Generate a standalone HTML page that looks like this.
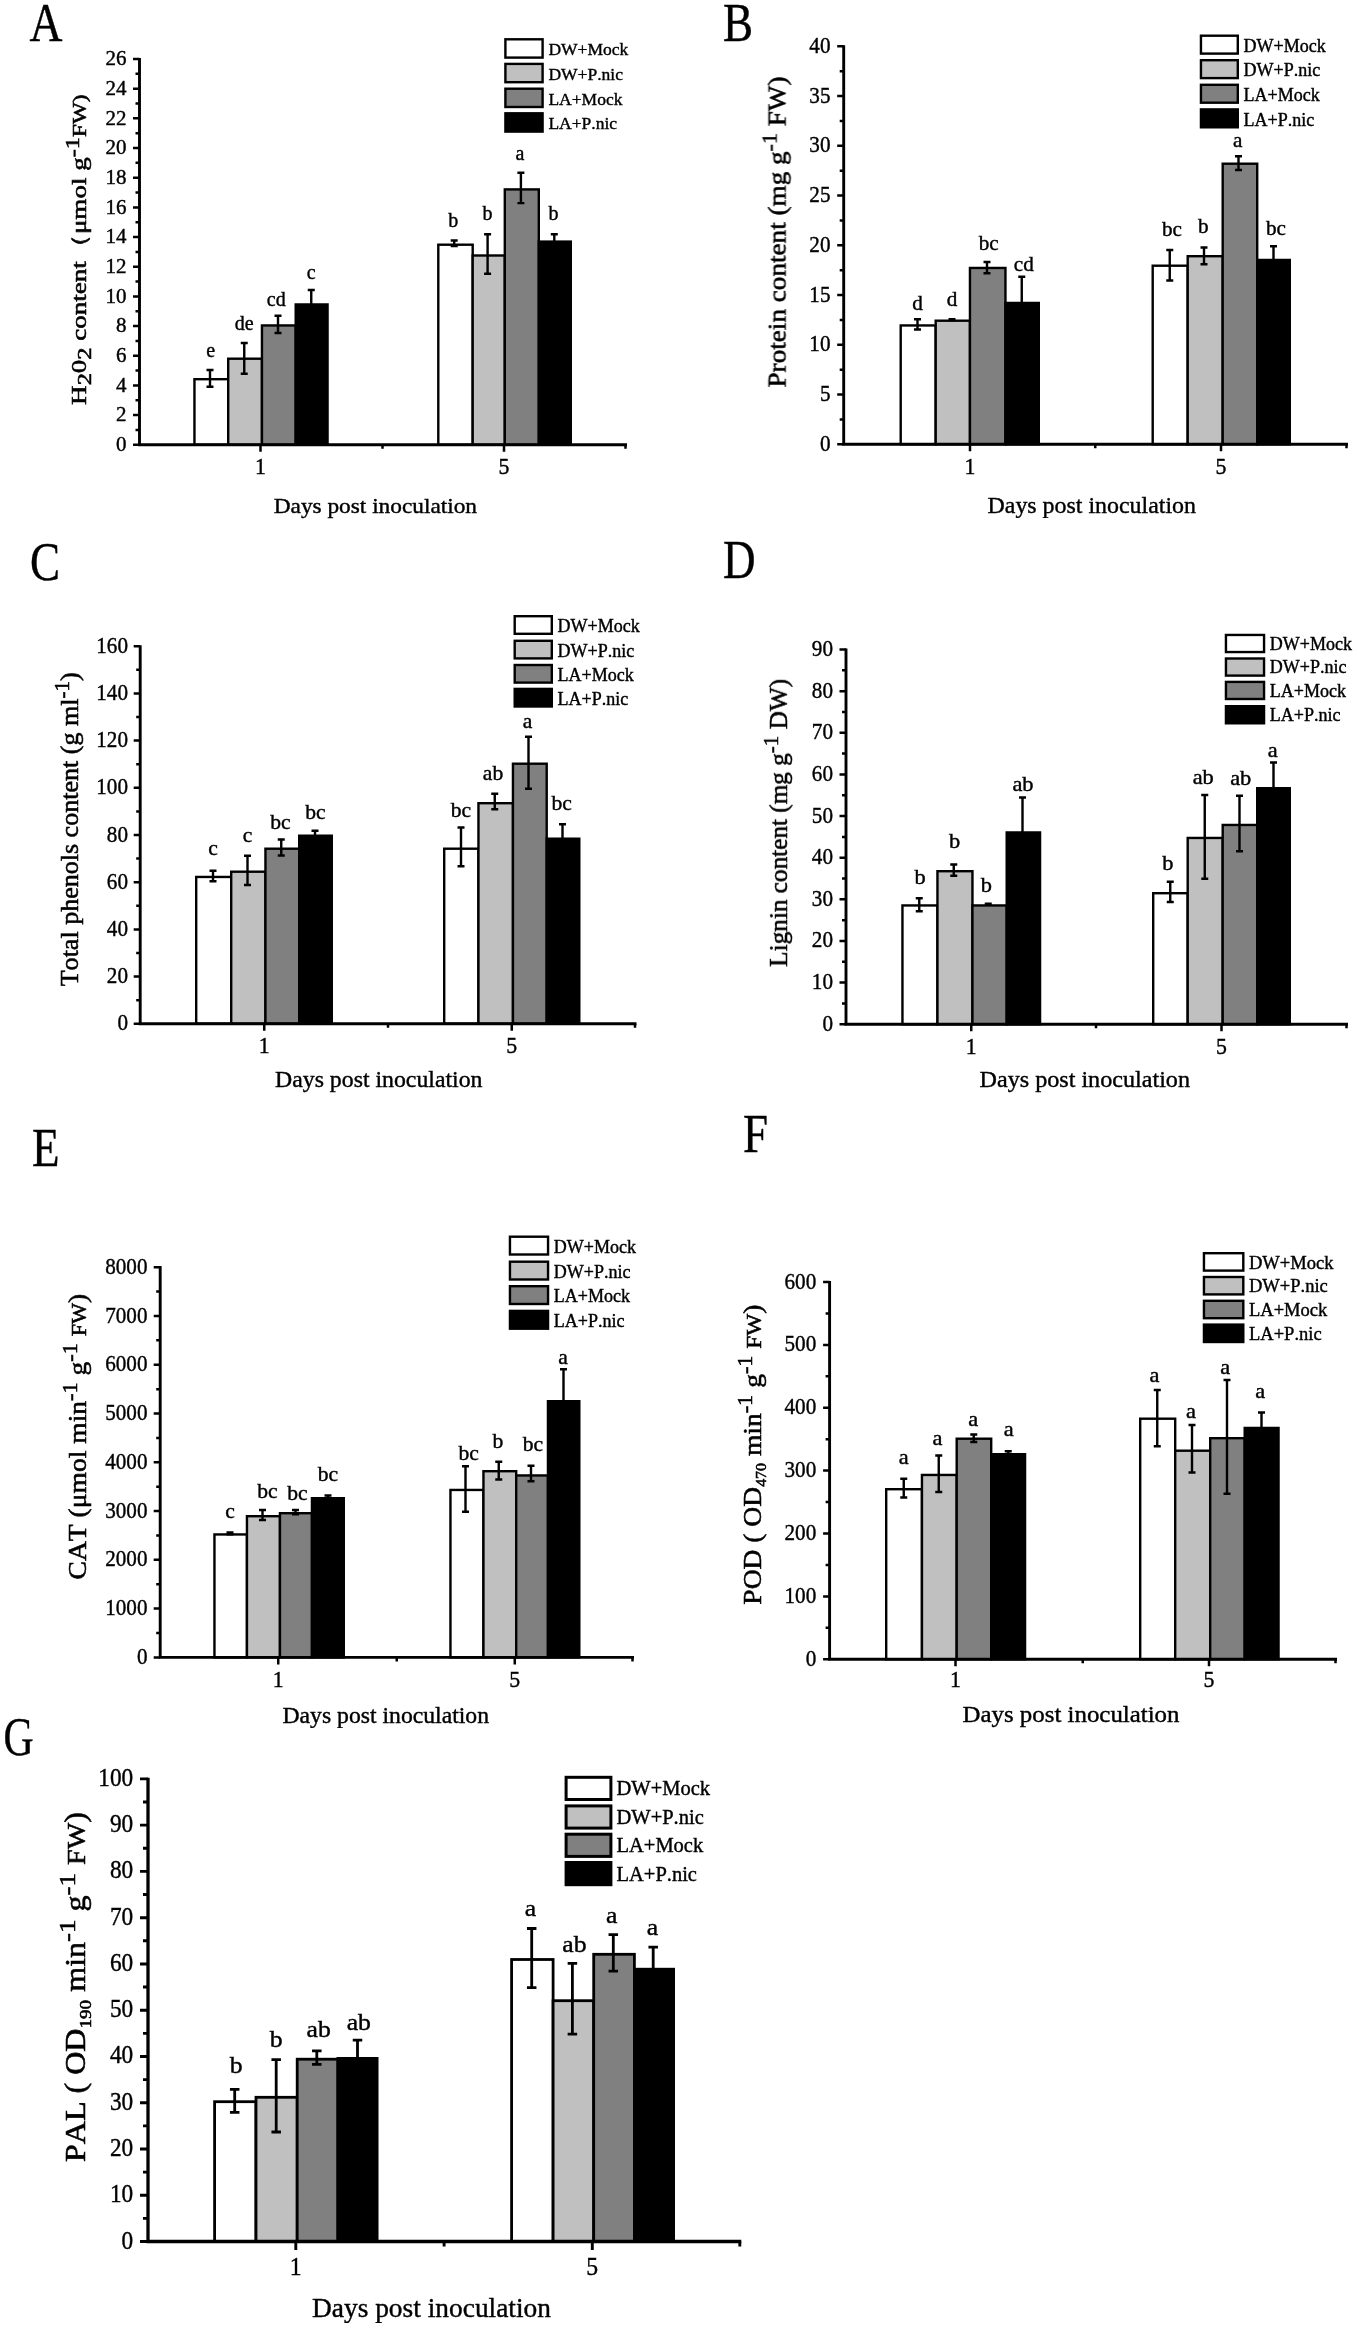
<!DOCTYPE html>
<html><head><meta charset="utf-8"><title>Figure</title>
<style>
html,body{margin:0;padding:0;background:#fff;}
body{width:1372px;height:2338px;overflow:hidden;font-family:"Liberation Serif",serif;}
svg{display:block;font-family:"Liberation Serif",serif;fill:#000;font-kerning:none;}
text{stroke:#000;stroke-width:0.4px;}
.yt{stroke-width:0.55px;}
</style></head><body>
<svg width="1372" height="2338" viewBox="0 0 1372 2338">
<defs><filter id="soft" x="0" y="0" width="100%" height="100%" filterUnits="userSpaceOnUse" color-interpolation-filters="sRGB"><feGaussianBlur stdDeviation="0.45"/></filter></defs>
<rect width="1372" height="2338" fill="#fff" stroke="none"/>
<g filter="url(#soft)">
<rect x="194.45" y="379.2" width="33.75" height="65.6" fill="#ffffff" stroke="#000" stroke-width="2.4"/>
<rect x="228.2" y="358.7" width="33.75" height="86.1" fill="#c0c0c0" stroke="#000" stroke-width="2.4"/>
<rect x="261.95" y="325.45" width="33.75" height="119.35" fill="#808080" stroke="#000" stroke-width="2.4"/>
<rect x="295.7" y="304.45" width="31.85" height="140.35" fill="#000000" stroke="#000" stroke-width="2.4"/>
<path d="M210 368.75V388M206.5 369.95H213.5M206.5 386.8H213.5" stroke="#000" stroke-width="2.4" fill="none"/>
<path d="M244.25 341.75V375M240.75 342.95H247.75M240.75 373.8H247.75" stroke="#000" stroke-width="2.4" fill="none"/>
<path d="M278 314.5V334.25M274.5 315.7H281.5M274.5 333.05H281.5" stroke="#000" stroke-width="2.4" fill="none"/>
<path d="M311.25 288.75V304.25M307.75 289.95H314.75" stroke="#000" stroke-width="2.4" fill="none"/>
<text transform="translate(210.75 356.75) scale(1 1)" font-size="20" text-anchor="middle" >e</text>
<text transform="translate(244.25 330) scale(1 1)" font-size="20" text-anchor="middle" >de</text>
<text transform="translate(276.25 306.25) scale(1 1)" font-size="20" text-anchor="middle" >cd</text>
<text transform="translate(311.25 278.75) scale(1 1)" font-size="20" text-anchor="middle" >c</text>
<rect x="438.3" y="244.7" width="34.4" height="200.1" fill="#ffffff" stroke="#000" stroke-width="2.4"/>
<rect x="472.7" y="255.5" width="32.1" height="189.3" fill="#c0c0c0" stroke="#000" stroke-width="2.4"/>
<rect x="504.8" y="189.4" width="34" height="255.4" fill="#808080" stroke="#000" stroke-width="2.4"/>
<rect x="538.8" y="241.6" width="32" height="203.2" fill="#000000" stroke="#000" stroke-width="2.4"/>
<path d="M454.2 239.3V247.2M450.7 240.5H457.7M450.7 246H457.7" stroke="#000" stroke-width="2.4" fill="none"/>
<path d="M487.6 233V275M484.1 234.2H491.1M484.1 273.8H491.1" stroke="#000" stroke-width="2.4" fill="none"/>
<path d="M520.9 171.5V204.3M517.4 172.7H524.4M517.4 203.1H524.4" stroke="#000" stroke-width="2.4" fill="none"/>
<path d="M554.3 233V241.4M550.8 234.2H557.8" stroke="#000" stroke-width="2.4" fill="none"/>
<text transform="translate(453.2 226.8) scale(1 1)" font-size="20" text-anchor="middle" >b</text>
<text transform="translate(487.6 220.1) scale(1 1)" font-size="20" text-anchor="middle" >b</text>
<text transform="translate(519.9 160.1) scale(1 1)" font-size="20" text-anchor="middle" >a</text>
<text transform="translate(553.6 220.1) scale(1 1)" font-size="20" text-anchor="middle" >b</text>
<path d="M139.5 57.9V446.25M138.05 444.8H627" stroke="#000" stroke-width="2.9" fill="none"/>
<text transform="translate(126.6 451) scale(1 1)" font-size="21" text-anchor="end" >0</text>
<text transform="translate(126.6 421.32) scale(1 1)" font-size="21" text-anchor="end" >2</text>
<text transform="translate(126.6 391.65) scale(1 1)" font-size="21" text-anchor="end" >4</text>
<text transform="translate(126.6 361.97) scale(1 1)" font-size="21" text-anchor="end" >6</text>
<text transform="translate(126.6 332.29) scale(1 1)" font-size="21" text-anchor="end" >8</text>
<text transform="translate(126.6 302.62) scale(1 1)" font-size="21" text-anchor="end" >10</text>
<text transform="translate(126.6 272.94) scale(1 1)" font-size="21" text-anchor="end" >12</text>
<text transform="translate(126.6 243.26) scale(1 1)" font-size="21" text-anchor="end" >14</text>
<text transform="translate(126.6 213.58) scale(1 1)" font-size="21" text-anchor="end" >16</text>
<text transform="translate(126.6 183.91) scale(1 1)" font-size="21" text-anchor="end" >18</text>
<text transform="translate(126.6 154.23) scale(1 1)" font-size="21" text-anchor="end" >20</text>
<text transform="translate(126.6 124.55) scale(1 1)" font-size="21" text-anchor="end" >22</text>
<text transform="translate(126.6 94.88) scale(1 1)" font-size="21" text-anchor="end" >24</text>
<text transform="translate(126.6 65.2) scale(1 1)" font-size="21" text-anchor="end" >26</text>
<path d="M139.5 444.8H133M139.5 429.96H135.5M139.5 415.12H133M139.5 400.28H135.5M139.5 385.45H133M139.5 370.61H135.5M139.5 355.77H133M139.5 340.93H135.5M139.5 326.09H133M139.5 311.25H135.5M139.5 296.42H133M139.5 281.58H135.5M139.5 266.74H133M139.5 251.9H135.5M139.5 237.06H133M139.5 222.22H135.5M139.5 207.38H133M139.5 192.55H135.5M139.5 177.71H133M139.5 162.87H135.5M139.5 148.03H133M139.5 133.19H135.5M139.5 118.35H133M139.5 103.52H135.5M139.5 88.68H133M139.5 73.84H135.5M139.5 59H133" stroke="#000" stroke-width="2.5" fill="none"/>
<text transform="translate(260.5 474.1) scale(0.97 1)" font-size="22.5" text-anchor="middle" >1</text>
<text transform="translate(504 474.1) scale(0.97 1)" font-size="22.5" text-anchor="middle" >5</text>
<path d="M260.5 444.8V451.8M382.5 444.8V448.8M504 444.8V451.8M625.5 444.8V448.8" stroke="#000" stroke-width="2.5" fill="none"/>
<text x="375.38" y="512.75" font-size="22" text-anchor="middle" textLength="203.25" lengthAdjust="spacingAndGlyphs" >Days post inoculation</text>
<text transform="translate(86.3 249.7) rotate(-90)" font-size="21" text-anchor="middle" textLength="310.4" lengthAdjust="spacingAndGlyphs" class="yt" >H<tspan dy="5" font-size="19">2</tspan><tspan dy="-5">0</tspan><tspan dy="5" font-size="19">2</tspan><tspan dy="-5"> content&#65288;&#956;mol g</tspan><tspan dy="-7" font-size="19">-1</tspan><tspan dy="7" font-size="18">FW)</tspan></text>
<rect x="505.4" y="39.3" width="37.2" height="18.3" fill="#ffffff" stroke="#000" stroke-width="2.4"/>
<text x="548.4" y="55.4" font-size="17.5" text-anchor="start" stroke-width="0.55">DW+Mock</text>
<rect x="505.4" y="63.9" width="37.2" height="18.3" fill="#c0c0c0" stroke="#000" stroke-width="2.4"/>
<text x="548.4" y="80" font-size="17.5" text-anchor="start" stroke-width="0.55">DW+P.nic</text>
<rect x="505.4" y="88.7" width="37.2" height="18.3" fill="#808080" stroke="#000" stroke-width="2.4"/>
<text x="548.4" y="104.8" font-size="17.5" text-anchor="start" stroke-width="0.55">LA+Mock</text>
<rect x="505.4" y="113.3" width="37.2" height="18.3" fill="#000000" stroke="#000" stroke-width="2.4"/>
<text x="548.4" y="129.4" font-size="17.5" text-anchor="start" stroke-width="0.55">LA+P.nic</text>
<text transform="translate(29.5 40.7) scale(0.83 1)" font-size="55" text-anchor="start" >A</text>
<rect x="900.7" y="325.45" width="35" height="118.8" fill="#ffffff" stroke="#000" stroke-width="2.4"/>
<rect x="935.7" y="320.7" width="34.25" height="123.55" fill="#c0c0c0" stroke="#000" stroke-width="2.4"/>
<rect x="969.95" y="267.95" width="35.5" height="176.3" fill="#808080" stroke="#000" stroke-width="2.4"/>
<rect x="1005.45" y="302.95" width="33.35" height="141.3" fill="#000000" stroke="#000" stroke-width="2.4"/>
<path d="M917.5 318V330.75M914 319.2H921M914 329.55H921" stroke="#000" stroke-width="2.4" fill="none"/>
<path d="M952 318V321.25M948.5 319.2H955.5M948.5 320.05H955.5" stroke="#000" stroke-width="2.4" fill="none"/>
<path d="M987 260.75V274.5M983.5 261.95H990.5M983.5 273.3H990.5" stroke="#000" stroke-width="2.4" fill="none"/>
<path d="M1021.75 275.5V302.75M1018.25 276.7H1025.25" stroke="#000" stroke-width="2.4" fill="none"/>
<text transform="translate(917.5 310) scale(1.06 1)" font-size="20" text-anchor="middle" >d</text>
<text transform="translate(952 305.75) scale(1.06 1)" font-size="20" text-anchor="middle" >d</text>
<text transform="translate(988.75 250) scale(1.06 1)" font-size="20" text-anchor="middle" >bc</text>
<text transform="translate(1023.75 271.25) scale(1.06 1)" font-size="20" text-anchor="middle" >cd</text>
<rect x="1152.7" y="265.7" width="35" height="178.55" fill="#ffffff" stroke="#000" stroke-width="2.4"/>
<rect x="1187.7" y="256.2" width="35" height="188.05" fill="#c0c0c0" stroke="#000" stroke-width="2.4"/>
<rect x="1222.7" y="163.7" width="34.5" height="280.55" fill="#808080" stroke="#000" stroke-width="2.4"/>
<rect x="1257.2" y="259.95" width="32.6" height="184.3" fill="#000000" stroke="#000" stroke-width="2.4"/>
<path d="M1169.75 248.75V281.75M1166.25 249.95H1173.25M1166.25 280.55H1173.25" stroke="#000" stroke-width="2.4" fill="none"/>
<path d="M1204 246.25V265.5M1200.5 247.45H1207.5M1200.5 264.3H1207.5" stroke="#000" stroke-width="2.4" fill="none"/>
<path d="M1238.5 155V171.25M1235 156.2H1242M1235 170.05H1242" stroke="#000" stroke-width="2.4" fill="none"/>
<path d="M1273.5 245V259.75M1270 246.2H1277" stroke="#000" stroke-width="2.4" fill="none"/>
<text transform="translate(1172 236.25) scale(1.06 1)" font-size="20" text-anchor="middle" >bc</text>
<text transform="translate(1203.25 233) scale(1.06 1)" font-size="20" text-anchor="middle" >b</text>
<text transform="translate(1237.75 147) scale(1.06 1)" font-size="20" text-anchor="middle" >a</text>
<text transform="translate(1276 235) scale(1.06 1)" font-size="20" text-anchor="middle" >bc</text>
<path d="M843.7 45.2V445.7M842.25 444.25H1348" stroke="#000" stroke-width="2.9" fill="none"/>
<text transform="translate(830.5 450.75) scale(0.94 1)" font-size="22.5" text-anchor="end" >0</text>
<text transform="translate(830.5 401.01) scale(0.94 1)" font-size="22.5" text-anchor="end" >5</text>
<text transform="translate(830.5 351.26) scale(0.94 1)" font-size="22.5" text-anchor="end" >10</text>
<text transform="translate(830.5 301.52) scale(0.94 1)" font-size="22.5" text-anchor="end" >15</text>
<text transform="translate(830.5 251.78) scale(0.94 1)" font-size="22.5" text-anchor="end" >20</text>
<text transform="translate(830.5 202.03) scale(0.94 1)" font-size="22.5" text-anchor="end" >25</text>
<text transform="translate(830.5 152.29) scale(0.94 1)" font-size="22.5" text-anchor="end" >30</text>
<text transform="translate(830.5 102.54) scale(0.94 1)" font-size="22.5" text-anchor="end" >35</text>
<text transform="translate(830.5 52.8) scale(0.94 1)" font-size="22.5" text-anchor="end" >40</text>
<path d="M843.7 444.25H837.2M843.7 419.38H839.7M843.7 394.51H837.2M843.7 369.63H839.7M843.7 344.76H837.2M843.7 319.89H839.7M843.7 295.02H837.2M843.7 270.15H839.7M843.7 245.28H837.2M843.7 220.4H839.7M843.7 195.53H837.2M843.7 170.66H839.7M843.7 145.79H837.2M843.7 120.92H839.7M843.7 96.04H837.2M843.7 71.17H839.7M843.7 46.3H837.2" stroke="#000" stroke-width="2.5" fill="none"/>
<text transform="translate(970 473.55) scale(0.97 1)" font-size="22.5" text-anchor="middle" >1</text>
<text transform="translate(1221 473.55) scale(0.97 1)" font-size="22.5" text-anchor="middle" >5</text>
<path d="M970 444.25V451.25M1095.25 444.25V448.25M1221 444.25V451.25M1346.5 444.25V448.25" stroke="#000" stroke-width="2.5" fill="none"/>
<text x="1091.75" y="512.5" font-size="24" text-anchor="middle" textLength="208.5" lengthAdjust="spacingAndGlyphs" >Days post inoculation</text>
<text transform="translate(785.6 232) rotate(-90)" font-size="26" text-anchor="middle" textLength="311" lengthAdjust="spacingAndGlyphs" class="yt" >Protein content (mg g<tspan dy="-9" font-size="21">-1</tspan><tspan dy="9"> FW)</tspan></text>
<rect x="1200.95" y="35.7" width="36.85" height="17.9" fill="#ffffff" stroke="#000" stroke-width="2.4"/>
<text x="1243.5" y="51.8" font-size="18" text-anchor="start" stroke-width="0.55">DW+Mock</text>
<rect x="1200.95" y="60.2" width="36.85" height="17.9" fill="#c0c0c0" stroke="#000" stroke-width="2.4"/>
<text x="1243.5" y="76.3" font-size="18" text-anchor="start" stroke-width="0.55">DW+P.nic</text>
<rect x="1200.95" y="84.8" width="36.85" height="17.9" fill="#808080" stroke="#000" stroke-width="2.4"/>
<text x="1243.5" y="100.9" font-size="18" text-anchor="start" stroke-width="0.55">LA+Mock</text>
<rect x="1200.95" y="109.4" width="36.85" height="17.9" fill="#000000" stroke="#000" stroke-width="2.4"/>
<text x="1243.5" y="125.5" font-size="18" text-anchor="start" stroke-width="0.55">LA+P.nic</text>
<text transform="translate(723 40.7) scale(0.82 1)" font-size="55" text-anchor="start" >B</text>
<rect x="196.2" y="876.95" width="35" height="146.8" fill="#ffffff" stroke="#000" stroke-width="2.4"/>
<rect x="231.2" y="871.7" width="34.25" height="152.05" fill="#c0c0c0" stroke="#000" stroke-width="2.4"/>
<rect x="265.45" y="848.7" width="33.75" height="175.05" fill="#808080" stroke="#000" stroke-width="2.4"/>
<rect x="299.2" y="835.7" width="32.6" height="188.05" fill="#000000" stroke="#000" stroke-width="2.4"/>
<path d="M213 869.5V882.5M209.5 870.7H216.5M209.5 881.3H216.5" stroke="#000" stroke-width="2.4" fill="none"/>
<path d="M247.5 854.5V886.25M244 855.7H251M244 885.05H251" stroke="#000" stroke-width="2.4" fill="none"/>
<path d="M281.25 838.25V856.75M277.75 839.45H284.75M277.75 855.55H284.75" stroke="#000" stroke-width="2.4" fill="none"/>
<path d="M315 829.5V835.5M311.5 830.7H318.5" stroke="#000" stroke-width="2.4" fill="none"/>
<text transform="translate(213 855) scale(1.08 1)" font-size="20" text-anchor="middle" >c</text>
<text transform="translate(247.5 842) scale(1.08 1)" font-size="20" text-anchor="middle" >c</text>
<text transform="translate(280.5 828.75) scale(1.08 1)" font-size="20" text-anchor="middle" >bc</text>
<text transform="translate(315.5 818.75) scale(1.08 1)" font-size="20" text-anchor="middle" >bc</text>
<rect x="444.2" y="848.7" width="34.25" height="175.05" fill="#ffffff" stroke="#000" stroke-width="2.4"/>
<rect x="478.45" y="803.2" width="34.5" height="220.55" fill="#c0c0c0" stroke="#000" stroke-width="2.4"/>
<rect x="512.95" y="763.7" width="33.75" height="260.05" fill="#808080" stroke="#000" stroke-width="2.4"/>
<rect x="546.7" y="838.7" width="32.6" height="185.05" fill="#000000" stroke="#000" stroke-width="2.4"/>
<path d="M461 826.25V867.5M457.5 827.45H464.5M457.5 866.3H464.5" stroke="#000" stroke-width="2.4" fill="none"/>
<path d="M494.75 792.5V810.5M491.25 793.7H498.25M491.25 809.3H498.25" stroke="#000" stroke-width="2.4" fill="none"/>
<path d="M528.5 735.5V790M525 736.7H532M525 788.8H532" stroke="#000" stroke-width="2.4" fill="none"/>
<path d="M562.5 823V838.5M559 824.2H566" stroke="#000" stroke-width="2.4" fill="none"/>
<text transform="translate(461 817) scale(1.08 1)" font-size="20" text-anchor="middle" >bc</text>
<text transform="translate(493 780) scale(1.08 1)" font-size="20" text-anchor="middle" >ab</text>
<text transform="translate(527.5 728.25) scale(1.08 1)" font-size="20" text-anchor="middle" >a</text>
<text transform="translate(561.75 810) scale(1.08 1)" font-size="20" text-anchor="middle" >bc</text>
<path d="M140.2 645.15V1025.2M138.75 1023.75H636.5" stroke="#000" stroke-width="2.9" fill="none"/>
<text transform="translate(128 1030.25) scale(0.94 1)" font-size="22.5" text-anchor="end" >0</text>
<text transform="translate(128 983.06) scale(0.94 1)" font-size="22.5" text-anchor="end" >20</text>
<text transform="translate(128 935.88) scale(0.94 1)" font-size="22.5" text-anchor="end" >40</text>
<text transform="translate(128 888.69) scale(0.94 1)" font-size="22.5" text-anchor="end" >60</text>
<text transform="translate(128 841.5) scale(0.94 1)" font-size="22.5" text-anchor="end" >80</text>
<text transform="translate(128 794.31) scale(0.94 1)" font-size="22.5" text-anchor="end" >100</text>
<text transform="translate(128 747.12) scale(0.94 1)" font-size="22.5" text-anchor="end" >120</text>
<text transform="translate(128 699.94) scale(0.94 1)" font-size="22.5" text-anchor="end" >140</text>
<text transform="translate(128 652.75) scale(0.94 1)" font-size="22.5" text-anchor="end" >160</text>
<path d="M140.2 1023.75H133.7M140.2 1000.16H136.2M140.2 976.56H133.7M140.2 952.97H136.2M140.2 929.38H133.7M140.2 905.78H136.2M140.2 882.19H133.7M140.2 858.59H136.2M140.2 835H133.7M140.2 811.41H136.2M140.2 787.81H133.7M140.2 764.22H136.2M140.2 740.62H133.7M140.2 717.03H136.2M140.2 693.44H133.7M140.2 669.84H136.2M140.2 646.25H133.7" stroke="#000" stroke-width="2.5" fill="none"/>
<text transform="translate(264.25 1053.05) scale(0.97 1)" font-size="22.5" text-anchor="middle" >1</text>
<text transform="translate(511.75 1053.05) scale(0.97 1)" font-size="22.5" text-anchor="middle" >5</text>
<path d="M264.25 1023.75V1030.75M388 1023.75V1027.75M511.75 1023.75V1030.75M635 1023.75V1027.75" stroke="#000" stroke-width="2.5" fill="none"/>
<text x="378.75" y="1086.8" font-size="23" text-anchor="middle" textLength="207.5" lengthAdjust="spacingAndGlyphs" >Days post inoculation</text>
<text transform="translate(78.1 829.35) rotate(-90)" font-size="26" text-anchor="middle" textLength="313.9" lengthAdjust="spacingAndGlyphs" class="yt" >Total phenols content (g ml<tspan dy="-9" font-size="21">-1</tspan><tspan dy="9">)</tspan></text>
<rect x="514.7" y="616.2" width="37.1" height="17.6" fill="#ffffff" stroke="#000" stroke-width="2.4"/>
<text x="557.5" y="632" font-size="18" text-anchor="start" stroke-width="0.55">DW+Mock</text>
<rect x="514.7" y="640.8" width="37.1" height="17.6" fill="#c0c0c0" stroke="#000" stroke-width="2.4"/>
<text x="557.5" y="656.6" font-size="18" text-anchor="start" stroke-width="0.55">DW+P.nic</text>
<rect x="514.7" y="665" width="37.1" height="17.6" fill="#808080" stroke="#000" stroke-width="2.4"/>
<text x="557.5" y="680.8" font-size="18" text-anchor="start" stroke-width="0.55">LA+Mock</text>
<rect x="514.7" y="688.9" width="37.1" height="17.6" fill="#000000" stroke="#000" stroke-width="2.4"/>
<text x="557.5" y="704.7" font-size="18" text-anchor="start" stroke-width="0.55">LA+P.nic</text>
<text transform="translate(30 579.5) scale(0.82 1)" font-size="55" text-anchor="start" >C</text>
<rect x="902.45" y="905.45" width="35" height="118.8" fill="#ffffff" stroke="#000" stroke-width="2.4"/>
<rect x="937.45" y="871.2" width="35" height="153.05" fill="#c0c0c0" stroke="#000" stroke-width="2.4"/>
<rect x="972.45" y="905.45" width="34.25" height="118.8" fill="#808080" stroke="#000" stroke-width="2.4"/>
<rect x="1006.7" y="832.45" width="33.35" height="191.8" fill="#000000" stroke="#000" stroke-width="2.4"/>
<path d="M919.25 897V912.5M915.75 898.2H922.75M915.75 911.3H922.75" stroke="#000" stroke-width="2.4" fill="none"/>
<path d="M953.75 863.25V877M950.25 864.45H957.25M950.25 875.8H957.25" stroke="#000" stroke-width="2.4" fill="none"/>
<path d="M988.25 902.5V905.5M984.75 903.7H991.75M984.75 904.3H991.75" stroke="#000" stroke-width="2.4" fill="none"/>
<path d="M1022.5 796.25V832.25M1019 797.45H1026" stroke="#000" stroke-width="2.4" fill="none"/>
<text transform="translate(920 883.75) scale(1.12 1)" font-size="20" text-anchor="middle" >b</text>
<text transform="translate(954.5 847.5) scale(1.12 1)" font-size="20" text-anchor="middle" >b</text>
<text transform="translate(986.25 892) scale(1.12 1)" font-size="20" text-anchor="middle" >b</text>
<text transform="translate(1023 790.5) scale(1.12 1)" font-size="20" text-anchor="middle" >ab</text>
<rect x="1153.2" y="893.2" width="34.5" height="131.05" fill="#ffffff" stroke="#000" stroke-width="2.4"/>
<rect x="1187.7" y="837.95" width="35" height="186.3" fill="#c0c0c0" stroke="#000" stroke-width="2.4"/>
<rect x="1222.7" y="824.95" width="34.5" height="199.3" fill="#808080" stroke="#000" stroke-width="2.4"/>
<rect x="1257.2" y="788.2" width="32.6" height="236.05" fill="#000000" stroke="#000" stroke-width="2.4"/>
<path d="M1170.25 880.5V903.25M1166.75 881.7H1173.75M1166.75 902.05H1173.75" stroke="#000" stroke-width="2.4" fill="none"/>
<path d="M1204.75 793.75V880M1201.25 794.95H1208.25M1201.25 878.8H1208.25" stroke="#000" stroke-width="2.4" fill="none"/>
<path d="M1239.5 794.5V852.5M1236 795.7H1243M1236 851.3H1243" stroke="#000" stroke-width="2.4" fill="none"/>
<path d="M1273.5 761.25V788M1270 762.45H1277" stroke="#000" stroke-width="2.4" fill="none"/>
<text transform="translate(1167.75 870) scale(1.12 1)" font-size="20" text-anchor="middle" >b</text>
<text transform="translate(1203.25 783.75) scale(1.12 1)" font-size="20" text-anchor="middle" >ab</text>
<text transform="translate(1240.75 784.5) scale(1.12 1)" font-size="20" text-anchor="middle" >ab</text>
<text transform="translate(1272.75 757) scale(1.12 1)" font-size="20" text-anchor="middle" >a</text>
<path d="M846 648.4V1025.7M844.55 1024.25H1348" stroke="#000" stroke-width="2.9" fill="none"/>
<text transform="translate(833 1030.75) scale(0.94 1)" font-size="22.5" text-anchor="end" >0</text>
<text transform="translate(833 989.11) scale(0.94 1)" font-size="22.5" text-anchor="end" >10</text>
<text transform="translate(833 947.47) scale(0.94 1)" font-size="22.5" text-anchor="end" >20</text>
<text transform="translate(833 905.83) scale(0.94 1)" font-size="22.5" text-anchor="end" >30</text>
<text transform="translate(833 864.19) scale(0.94 1)" font-size="22.5" text-anchor="end" >40</text>
<text transform="translate(833 822.56) scale(0.94 1)" font-size="22.5" text-anchor="end" >50</text>
<text transform="translate(833 780.92) scale(0.94 1)" font-size="22.5" text-anchor="end" >60</text>
<text transform="translate(833 739.28) scale(0.94 1)" font-size="22.5" text-anchor="end" >70</text>
<text transform="translate(833 697.64) scale(0.94 1)" font-size="22.5" text-anchor="end" >80</text>
<text transform="translate(833 656) scale(0.94 1)" font-size="22.5" text-anchor="end" >90</text>
<path d="M846 1024.25H839.5M846 1003.43H842M846 982.61H839.5M846 961.79H842M846 940.97H839.5M846 920.15H842M846 899.33H839.5M846 878.51H842M846 857.69H839.5M846 836.88H842M846 816.06H839.5M846 795.24H842M846 774.42H839.5M846 753.6H842M846 732.78H839.5M846 711.96H842M846 691.14H839.5M846 670.32H842M846 649.5H839.5" stroke="#000" stroke-width="2.5" fill="none"/>
<text transform="translate(971.25 1053.55) scale(0.97 1)" font-size="22.5" text-anchor="middle" >1</text>
<text transform="translate(1221.5 1053.55) scale(0.97 1)" font-size="22.5" text-anchor="middle" >5</text>
<path d="M971.25 1024.25V1031.25M1096 1024.25V1028.25M1221.5 1024.25V1031.25M1346.5 1024.25V1028.25" stroke="#000" stroke-width="2.5" fill="none"/>
<text x="1084.75" y="1086.8" font-size="23.5" text-anchor="middle" textLength="210.5" lengthAdjust="spacingAndGlyphs" >Days post inoculation</text>
<text transform="translate(787 822.8) rotate(-90)" font-size="25" text-anchor="middle" textLength="287.8" lengthAdjust="spacingAndGlyphs" class="yt" >Lignin content (mg g<tspan dy="-9" font-size="21">-1</tspan><tspan dy="9"> DW)</tspan></text>
<rect x="1225.95" y="634.95" width="38.1" height="17.1" fill="#ffffff" stroke="#000" stroke-width="2.4"/>
<text x="1269.75" y="649.75" font-size="18" text-anchor="start" stroke-width="0.55">DW+Mock</text>
<rect x="1225.95" y="658.5" width="38.1" height="17.1" fill="#c0c0c0" stroke="#000" stroke-width="2.4"/>
<text x="1269.75" y="673.3" font-size="18" text-anchor="start" stroke-width="0.55">DW+P.nic</text>
<rect x="1225.95" y="681.9" width="38.1" height="17.1" fill="#808080" stroke="#000" stroke-width="2.4"/>
<text x="1269.75" y="696.7" font-size="18" text-anchor="start" stroke-width="0.55">LA+Mock</text>
<rect x="1225.95" y="706.2" width="38.1" height="17.1" fill="#000000" stroke="#000" stroke-width="2.4"/>
<text x="1269.75" y="721" font-size="18" text-anchor="start" stroke-width="0.55">LA+P.nic</text>
<text transform="translate(723 577.6) scale(0.82 1)" font-size="55" text-anchor="start" >D</text>
<rect x="214.45" y="1534.45" width="32.5" height="122.95" fill="#ffffff" stroke="#000" stroke-width="2.4"/>
<rect x="246.95" y="1516.2" width="33" height="141.2" fill="#c0c0c0" stroke="#000" stroke-width="2.4"/>
<rect x="279.95" y="1513.2" width="32" height="144.2" fill="#808080" stroke="#000" stroke-width="2.4"/>
<rect x="311.95" y="1498.2" width="31.85" height="159.2" fill="#000000" stroke="#000" stroke-width="2.4"/>
<path d="M230 1531.25V1535.5M226.5 1532.45H233.5M226.5 1534.3H233.5" stroke="#000" stroke-width="2.4" fill="none"/>
<path d="M262.5 1508.75V1521.25M259 1509.95H266M259 1520.05H266" stroke="#000" stroke-width="2.4" fill="none"/>
<path d="M295.5 1508.75V1515.5M292 1509.95H299M292 1514.3H299" stroke="#000" stroke-width="2.4" fill="none"/>
<path d="M328 1494.25V1498M324.5 1495.45H331.5" stroke="#000" stroke-width="2.4" fill="none"/>
<text transform="translate(230 1517.5) scale(1.08 1)" font-size="20" text-anchor="middle" >c</text>
<text transform="translate(267.5 1497.5) scale(1.08 1)" font-size="20" text-anchor="middle" >bc</text>
<text transform="translate(297.5 1499.5) scale(1.08 1)" font-size="20" text-anchor="middle" >bc</text>
<text transform="translate(328 1480.75) scale(1.08 1)" font-size="20" text-anchor="middle" >bc</text>
<rect x="450.45" y="1489.95" width="33" height="167.45" fill="#ffffff" stroke="#000" stroke-width="2.4"/>
<rect x="483.45" y="1471.2" width="32.75" height="186.2" fill="#c0c0c0" stroke="#000" stroke-width="2.4"/>
<rect x="516.2" y="1475.45" width="31.75" height="181.95" fill="#808080" stroke="#000" stroke-width="2.4"/>
<rect x="547.95" y="1401.2" width="31.35" height="256.2" fill="#000000" stroke="#000" stroke-width="2.4"/>
<path d="M465.5 1465V1513M462 1466.2H469M462 1511.8H469" stroke="#000" stroke-width="2.4" fill="none"/>
<path d="M498.75 1460.5V1480.75M495.25 1461.7H502.25M495.25 1479.55H502.25" stroke="#000" stroke-width="2.4" fill="none"/>
<path d="M531 1464.5V1482.5M527.5 1465.7H534.5M527.5 1481.3H534.5" stroke="#000" stroke-width="2.4" fill="none"/>
<path d="M563.5 1368V1401M560 1369.2H567" stroke="#000" stroke-width="2.4" fill="none"/>
<text transform="translate(468.75 1460) scale(1.08 1)" font-size="20" text-anchor="middle" >bc</text>
<text transform="translate(498 1448) scale(1.08 1)" font-size="20" text-anchor="middle" >b</text>
<text transform="translate(533 1450.5) scale(1.08 1)" font-size="20" text-anchor="middle" >bc</text>
<text transform="translate(563 1363.75) scale(1.08 1)" font-size="20" text-anchor="middle" >a</text>
<path d="M160.2 1266.1V1658.85M158.75 1657.4H634" stroke="#000" stroke-width="2.9" fill="none"/>
<text transform="translate(147.5 1664) scale(0.92 1)" font-size="23" text-anchor="end" >0</text>
<text transform="translate(147.5 1615.22) scale(0.92 1)" font-size="23" text-anchor="end" >1000</text>
<text transform="translate(147.5 1566.45) scale(0.92 1)" font-size="23" text-anchor="end" >2000</text>
<text transform="translate(147.5 1517.67) scale(0.92 1)" font-size="23" text-anchor="end" >3000</text>
<text transform="translate(147.5 1468.9) scale(0.92 1)" font-size="23" text-anchor="end" >4000</text>
<text transform="translate(147.5 1420.12) scale(0.92 1)" font-size="23" text-anchor="end" >5000</text>
<text transform="translate(147.5 1371.35) scale(0.92 1)" font-size="23" text-anchor="end" >6000</text>
<text transform="translate(147.5 1322.57) scale(0.92 1)" font-size="23" text-anchor="end" >7000</text>
<text transform="translate(147.5 1273.8) scale(0.92 1)" font-size="23" text-anchor="end" >8000</text>
<path d="M160.2 1657.4H153.7M160.2 1633.01H156.2M160.2 1608.62H153.7M160.2 1584.24H156.2M160.2 1559.85H153.7M160.2 1535.46H156.2M160.2 1511.08H153.7M160.2 1486.69H156.2M160.2 1462.3H153.7M160.2 1437.91H156.2M160.2 1413.53H153.7M160.2 1389.14H156.2M160.2 1364.75H153.7M160.2 1340.36H156.2M160.2 1315.97H153.7M160.2 1291.59H156.2M160.2 1267.2H153.7" stroke="#000" stroke-width="2.5" fill="none"/>
<text transform="translate(278.25 1686.7) scale(0.97 1)" font-size="22.5" text-anchor="middle" >1</text>
<text transform="translate(514.75 1686.7) scale(0.97 1)" font-size="22.5" text-anchor="middle" >5</text>
<path d="M278.25 1657.4V1664.4M396.75 1657.4V1661.4M514.75 1657.4V1664.4M632.5 1657.4V1661.4" stroke="#000" stroke-width="2.5" fill="none"/>
<text x="385.75" y="1722.5" font-size="23" text-anchor="middle" textLength="206.5" lengthAdjust="spacingAndGlyphs" >Days post inoculation</text>
<text transform="translate(85.5 1436.6) rotate(-90)" font-size="26" text-anchor="middle" textLength="285.6" lengthAdjust="spacingAndGlyphs" class="yt" >CAT (&#956;mol min<tspan dy="-9" font-size="21">-1</tspan><tspan dy="9">  g</tspan><tspan dy="-9" font-size="21">-1</tspan><tspan dy="9"> </tspan><tspan font-size="21">FW</tspan>)</text>
<rect x="509.95" y="1236.7" width="38.1" height="17.8" fill="#ffffff" stroke="#000" stroke-width="2.4"/>
<text x="553.75" y="1252.5" font-size="18" text-anchor="start" stroke-width="0.55">DW+Mock</text>
<rect x="509.95" y="1261.7" width="38.1" height="17.8" fill="#c0c0c0" stroke="#000" stroke-width="2.4"/>
<text x="553.75" y="1277.5" font-size="18" text-anchor="start" stroke-width="0.55">DW+P.nic</text>
<rect x="509.95" y="1286.2" width="38.1" height="17.8" fill="#808080" stroke="#000" stroke-width="2.4"/>
<text x="553.75" y="1302" font-size="18" text-anchor="start" stroke-width="0.55">LA+Mock</text>
<rect x="509.95" y="1310.9" width="38.1" height="17.8" fill="#000000" stroke="#000" stroke-width="2.4"/>
<text x="553.75" y="1326.7" font-size="18" text-anchor="start" stroke-width="0.55">LA+P.nic</text>
<text transform="translate(32 1166) scale(0.82 1)" font-size="55" text-anchor="start" >E</text>
<rect x="886.2" y="1489.2" width="35.75" height="170.05" fill="#ffffff" stroke="#000" stroke-width="2.4"/>
<rect x="921.95" y="1474.95" width="34.75" height="184.3" fill="#c0c0c0" stroke="#000" stroke-width="2.4"/>
<rect x="956.7" y="1438.7" width="34.5" height="220.55" fill="#808080" stroke="#000" stroke-width="2.4"/>
<rect x="991.2" y="1454.2" width="33.85" height="205.05" fill="#000000" stroke="#000" stroke-width="2.4"/>
<path d="M903.75 1477.5V1498.75M900.25 1478.7H907.25M900.25 1497.55H907.25" stroke="#000" stroke-width="2.4" fill="none"/>
<path d="M938.75 1454.25V1493.25M935.25 1455.45H942.25M935.25 1492.05H942.25" stroke="#000" stroke-width="2.4" fill="none"/>
<path d="M973.75 1433.25V1443.25M970.25 1434.45H977.25M970.25 1442.05H977.25" stroke="#000" stroke-width="2.4" fill="none"/>
<path d="M1008.25 1450V1454M1004.75 1451.2H1011.75" stroke="#000" stroke-width="2.4" fill="none"/>
<text transform="translate(903.75 1464.25) scale(1.12 1)" font-size="20" text-anchor="middle" >a</text>
<text transform="translate(937.5 1445) scale(1.12 1)" font-size="20" text-anchor="middle" >a</text>
<text transform="translate(973.25 1425.5) scale(1.12 1)" font-size="20" text-anchor="middle" >a</text>
<text transform="translate(1008.75 1436.25) scale(1.12 1)" font-size="20" text-anchor="middle" >a</text>
<rect x="1140.2" y="1418.7" width="35" height="240.55" fill="#ffffff" stroke="#000" stroke-width="2.4"/>
<rect x="1175.2" y="1450.7" width="35" height="208.55" fill="#c0c0c0" stroke="#000" stroke-width="2.4"/>
<rect x="1210.2" y="1438.2" width="34.5" height="221.05" fill="#808080" stroke="#000" stroke-width="2.4"/>
<rect x="1244.7" y="1427.95" width="33.85" height="231.3" fill="#000000" stroke="#000" stroke-width="2.4"/>
<path d="M1157.25 1388.75V1447.5M1153.75 1389.95H1160.75M1153.75 1446.3H1160.75" stroke="#000" stroke-width="2.4" fill="none"/>
<path d="M1192 1423.75V1473.75M1188.5 1424.95H1195.5M1188.5 1472.55H1195.5" stroke="#000" stroke-width="2.4" fill="none"/>
<path d="M1227 1378.75V1495M1223.5 1379.95H1230.5M1223.5 1493.8H1230.5" stroke="#000" stroke-width="2.4" fill="none"/>
<path d="M1261.5 1411.25V1427.75M1258 1412.45H1265" stroke="#000" stroke-width="2.4" fill="none"/>
<text transform="translate(1154.5 1382) scale(1.12 1)" font-size="20" text-anchor="middle" >a</text>
<text transform="translate(1191 1417.5) scale(1.12 1)" font-size="20" text-anchor="middle" >a</text>
<text transform="translate(1225.25 1373.75) scale(1.12 1)" font-size="20" text-anchor="middle" >a</text>
<text transform="translate(1260.25 1398) scale(1.12 1)" font-size="20" text-anchor="middle" >a</text>
<path d="M829.6 1280.9V1660.7M828.15 1659.25H1337" stroke="#000" stroke-width="2.9" fill="none"/>
<text transform="translate(816.25 1665.75) scale(0.94 1)" font-size="22.5" text-anchor="end" >0</text>
<text transform="translate(816.25 1602.88) scale(0.94 1)" font-size="22.5" text-anchor="end" >100</text>
<text transform="translate(816.25 1540) scale(0.94 1)" font-size="22.5" text-anchor="end" >200</text>
<text transform="translate(816.25 1477.12) scale(0.94 1)" font-size="22.5" text-anchor="end" >300</text>
<text transform="translate(816.25 1414.25) scale(0.94 1)" font-size="22.5" text-anchor="end" >400</text>
<text transform="translate(816.25 1351.38) scale(0.94 1)" font-size="22.5" text-anchor="end" >500</text>
<text transform="translate(816.25 1288.5) scale(0.94 1)" font-size="22.5" text-anchor="end" >600</text>
<path d="M829.6 1659.25H823.1M829.6 1627.81H825.6M829.6 1596.38H823.1M829.6 1564.94H825.6M829.6 1533.5H823.1M829.6 1502.06H825.6M829.6 1470.62H823.1M829.6 1439.19H825.6M829.6 1407.75H823.1M829.6 1376.31H825.6M829.6 1344.88H823.1M829.6 1313.44H825.6M829.6 1282H823.1" stroke="#000" stroke-width="2.5" fill="none"/>
<text transform="translate(955.5 1686.75) scale(0.97 1)" font-size="22.5" text-anchor="middle" >1</text>
<text transform="translate(1209 1686.75) scale(0.97 1)" font-size="22.5" text-anchor="middle" >5</text>
<path d="M955.5 1659.25V1666.25M1082.75 1659.25V1663.25M1209 1659.25V1666.25M1335.5 1659.25V1663.25" stroke="#000" stroke-width="2.5" fill="none"/>
<text x="1071" y="1722.3" font-size="23" text-anchor="middle" textLength="217" lengthAdjust="spacingAndGlyphs" stroke="#000" stroke-width="0.3">Days post inoculation</text>
<text transform="translate(761.3 1454.6) rotate(-90)" font-size="26" text-anchor="middle" textLength="300.2" lengthAdjust="spacingAndGlyphs" class="yt" >POD (  OD<tspan dy="5" font-size="15">470</tspan><tspan dy="-5"> min</tspan><tspan dy="-9" font-size="21">-1</tspan><tspan dy="9">  g</tspan><tspan dy="-9" font-size="21">-1</tspan><tspan dy="9"> </tspan><tspan font-size="22">FW</tspan>)</text>
<rect x="1203.95" y="1253.2" width="39.35" height="17.4" fill="#ffffff" stroke="#000" stroke-width="2.4"/>
<text x="1249" y="1268.5" font-size="18.5" text-anchor="start" stroke-width="0.55">DW+Mock</text>
<rect x="1203.95" y="1277" width="39.35" height="17.4" fill="#c0c0c0" stroke="#000" stroke-width="2.4"/>
<text x="1249" y="1292.3" font-size="18.5" text-anchor="start" stroke-width="0.55">DW+P.nic</text>
<rect x="1203.95" y="1300.8" width="39.35" height="17.4" fill="#808080" stroke="#000" stroke-width="2.4"/>
<text x="1249" y="1316.1" font-size="18.5" text-anchor="start" stroke-width="0.55">LA+Mock</text>
<rect x="1203.95" y="1324.6" width="39.35" height="17.4" fill="#000000" stroke="#000" stroke-width="2.4"/>
<text x="1249" y="1339.9" font-size="18.5" text-anchor="start" stroke-width="0.55">LA+P.nic</text>
<text transform="translate(743 1152) scale(0.82 1)" font-size="55" text-anchor="start" >F</text>
<rect x="214.6" y="2101.7" width="41.4" height="139.8" fill="#ffffff" stroke="#000" stroke-width="2.8"/>
<rect x="256" y="2097.3" width="41.2" height="144.2" fill="#c0c0c0" stroke="#000" stroke-width="2.8"/>
<rect x="297.2" y="2059.2" width="40.7" height="182.3" fill="#808080" stroke="#000" stroke-width="2.8"/>
<rect x="337.9" y="2058.4" width="39.2" height="183.1" fill="#000000" stroke="#000" stroke-width="2.8"/>
<path d="M234.7 2088V2113.7M229.95 2089.4H239.45M229.95 2112.3H239.45" stroke="#000" stroke-width="2.8" fill="none"/>
<path d="M276.2 2058.3V2133.4M271.45 2059.7H280.95M271.45 2132H280.95" stroke="#000" stroke-width="2.8" fill="none"/>
<path d="M316.8 2049.4V2065.7M312.05 2050.8H321.55M312.05 2064.3H321.55" stroke="#000" stroke-width="2.8" fill="none"/>
<path d="M357.5 2038.7V2058M352.75 2040.1H362.25" stroke="#000" stroke-width="2.8" fill="none"/>
<text transform="translate(236.3 2073) scale(1.12 1)" font-size="23" text-anchor="middle" >b</text>
<text transform="translate(276.2 2046.5) scale(1.12 1)" font-size="23" text-anchor="middle" >b</text>
<text transform="translate(318.7 2036.8) scale(1.12 1)" font-size="23" text-anchor="middle" >ab</text>
<text transform="translate(358.8 2030.3) scale(1.12 1)" font-size="23" text-anchor="middle" >ab</text>
<rect x="511.6" y="1959.5" width="41.5" height="282" fill="#ffffff" stroke="#000" stroke-width="2.8"/>
<rect x="553.1" y="2000.7" width="40.6" height="240.8" fill="#c0c0c0" stroke="#000" stroke-width="2.8"/>
<rect x="593.7" y="1954.3" width="40.7" height="287.2" fill="#808080" stroke="#000" stroke-width="2.8"/>
<rect x="634.4" y="1969.2" width="39.2" height="272.3" fill="#000000" stroke="#000" stroke-width="2.8"/>
<path d="M531.7 1927.1V1989.1M526.95 1928.5H536.45M526.95 1987.7H536.45" stroke="#000" stroke-width="2.8" fill="none"/>
<path d="M572.4 1962V2035.5M567.65 1963.4H577.15M567.65 2034.1H577.15" stroke="#000" stroke-width="2.8" fill="none"/>
<path d="M613.3 1933.2V1972.5M608.55 1934.6H618.05M608.55 1971.1H618.05" stroke="#000" stroke-width="2.8" fill="none"/>
<path d="M653.2 1945.8V1968.8M648.45 1947.2H657.95" stroke="#000" stroke-width="2.8" fill="none"/>
<text transform="translate(530.4 1916.1) scale(1.12 1)" font-size="23" text-anchor="middle" >a</text>
<text transform="translate(574.5 1952.1) scale(1.12 1)" font-size="23" text-anchor="middle" >ab</text>
<text transform="translate(611.8 1923.2) scale(1.12 1)" font-size="23" text-anchor="middle" >a</text>
<text transform="translate(652.4 1934.5) scale(1.12 1)" font-size="23" text-anchor="middle" >a</text>
<path d="M148 1777.8V2243.15M146.35 2241.5H741.3" stroke="#000" stroke-width="3.3" fill="none"/>
<text transform="translate(133.2 2248.5) scale(0.95 1)" font-size="24.5" text-anchor="end" >0</text>
<text transform="translate(133.2 2202.24) scale(0.95 1)" font-size="24.5" text-anchor="end" >10</text>
<text transform="translate(133.2 2155.98) scale(0.95 1)" font-size="24.5" text-anchor="end" >20</text>
<text transform="translate(133.2 2109.72) scale(0.95 1)" font-size="24.5" text-anchor="end" >30</text>
<text transform="translate(133.2 2063.46) scale(0.95 1)" font-size="24.5" text-anchor="end" >40</text>
<text transform="translate(133.2 2017.2) scale(0.95 1)" font-size="24.5" text-anchor="end" >50</text>
<text transform="translate(133.2 1970.94) scale(0.95 1)" font-size="24.5" text-anchor="end" >60</text>
<text transform="translate(133.2 1924.68) scale(0.95 1)" font-size="24.5" text-anchor="end" >70</text>
<text transform="translate(133.2 1878.42) scale(0.95 1)" font-size="24.5" text-anchor="end" >80</text>
<text transform="translate(133.2 1832.16) scale(0.95 1)" font-size="24.5" text-anchor="end" >90</text>
<text transform="translate(133.2 1785.9) scale(0.95 1)" font-size="24.5" text-anchor="end" >100</text>
<path d="M148 2241.5H140M148 2218.37H143M148 2195.24H140M148 2172.11H143M148 2148.98H140M148 2125.85H143M148 2102.72H140M148 2079.59H143M148 2056.46H140M148 2033.33H143M148 2010.2H140M148 1987.07H143M148 1963.94H140M148 1940.81H143M148 1917.68H140M148 1894.55H143M148 1871.42H140M148 1848.29H143M148 1825.16H140M148 1802.03H143M148 1778.9H140" stroke="#000" stroke-width="2.9" fill="none"/>
<text transform="translate(295.8 2274.5) scale(0.93 1)" font-size="25.5" text-anchor="middle" >1</text>
<text transform="translate(592.3 2274.5) scale(0.93 1)" font-size="25.5" text-anchor="middle" >5</text>
<path d="M295.8 2241.5V2250M444.1 2241.5V2246.5M592.3 2241.5V2250M739.8 2241.5V2246.5" stroke="#000" stroke-width="2.9" fill="none"/>
<text x="431.5" y="2316.5" font-size="27.5" text-anchor="middle" textLength="239" lengthAdjust="spacingAndGlyphs" >Days post inoculation</text>
<text transform="translate(84.8 1987.05) rotate(-90)" font-size="28.5" text-anchor="middle" textLength="350.1" lengthAdjust="spacingAndGlyphs" class="yt" >PAL (  OD<tspan dy="6" font-size="17">190</tspan><tspan dy="-6"> min</tspan><tspan dy="-10" font-size="24">-1</tspan><tspan dy="10">  g</tspan><tspan dy="-10" font-size="24">-1</tspan><tspan dy="10"> </tspan><tspan font-size="25">FW</tspan>)</text>
<rect x="566.1" y="1777.3" width="44.8" height="22.2" fill="#ffffff" stroke="#000" stroke-width="3"/>
<text x="616.5" y="1795.4" font-size="20.5" text-anchor="start" stroke-width="0.55">DW+Mock</text>
<rect x="566.1" y="1805.9" width="44.8" height="22.2" fill="#c0c0c0" stroke="#000" stroke-width="3"/>
<text x="616.5" y="1824" font-size="20.5" text-anchor="start" stroke-width="0.55">DW+P.nic</text>
<rect x="566.1" y="1834.2" width="44.8" height="22.2" fill="#808080" stroke="#000" stroke-width="3"/>
<text x="616.5" y="1852.3" font-size="20.5" text-anchor="start" stroke-width="0.55">LA+Mock</text>
<rect x="566.1" y="1862.5" width="44.8" height="22.2" fill="#000000" stroke="#000" stroke-width="3"/>
<text x="616.5" y="1880.6" font-size="20.5" text-anchor="start" stroke-width="0.55">LA+P.nic</text>
<text transform="translate(3.5 1754.8) scale(0.76 1)" font-size="55" text-anchor="start" >G</text>
</g>
</svg>
</body></html>
